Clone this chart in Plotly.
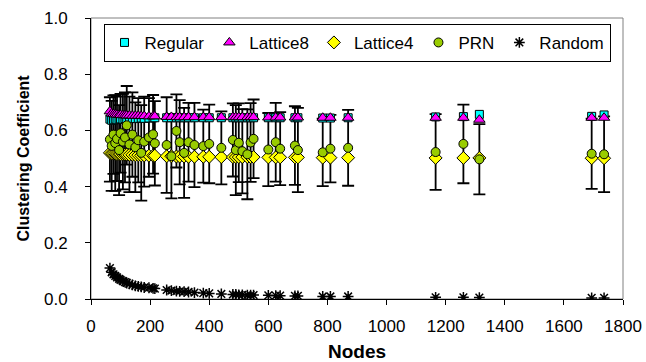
import plotly.graph_objects as go

nodes = [64, 70, 76, 82, 88, 95, 100, 108, 115, 121, 130, 140, 150, 160, 170, 180, 196, 210, 216,
         256, 272, 289, 300, 315, 330, 350, 380, 400, 441, 480, 490, 500, 512, 529, 540, 550,
         600, 625, 640, 690, 700, 784, 810, 870, 1166, 1260, 1314, 1694, 1736]

regular = [0.640, 0.636, 0.638, 0.640, 0.638, 0.640, 0.641, 0.640, 0.642, 0.640, 0.642, 0.643, 0.642,
           0.643, 0.644, 0.643, 0.644, 0.645, 0.645,
           0.645, 0.645, 0.645, 0.645, 0.645, 0.645, 0.645, 0.645, 0.645, 0.645, 0.645, 0.645, 0.645,
           0.645, 0.645, 0.645, 0.645, 0.645, 0.645, 0.645, 0.645, 0.645, 0.644, 0.644, 0.645,
           0.648, 0.649, 0.657, 0.650, 0.655]

lattice8 = [0.668, 0.660, 0.658, 0.657, 0.656, 0.655, 0.655, 0.654, 0.654, 0.653, 0.653, 0.652, 0.652,
            0.652, 0.651, 0.651, 0.650, 0.650, 0.650,
            0.648, 0.648, 0.647, 0.647, 0.647, 0.647, 0.647, 0.647, 0.647, 0.647, 0.647, 0.647, 0.647,
            0.647, 0.647, 0.647, 0.647, 0.646, 0.646, 0.646, 0.646, 0.646, 0.645, 0.645, 0.645,
            0.645, 0.645, 0.638, 0.645, 0.645]

lattice4 = [0.520, 0.518, 0.518, 0.517, 0.516, 0.516, 0.515, 0.515, 0.514, 0.514, 0.513, 0.513, 0.512,
            0.512, 0.511, 0.511, 0.510, 0.510, 0.510,
            0.508, 0.508, 0.507, 0.507, 0.507, 0.506, 0.506, 0.506, 0.506, 0.505, 0.505, 0.505, 0.505,
            0.505, 0.505, 0.505, 0.505, 0.504, 0.504, 0.504, 0.504, 0.504, 0.503, 0.503, 0.503,
            0.502, 0.502, 0.502, 0.501, 0.501]

prn = [0.568, 0.545, 0.585, 0.555, 0.570, 0.530, 0.590, 0.560, 0.575, 0.618, 0.550, 0.585, 0.540,
       0.565, 0.520, 0.560, 0.575, 0.586, 0.554,
       0.548, 0.508, 0.598, 0.558, 0.520, 0.558, 0.548, 0.544, 0.552, 0.538, 0.566, 0.530, 0.556,
       0.526, 0.515, 0.557, 0.570, 0.532, 0.558, 0.535, 0.546, 0.530, 0.522, 0.535, 0.538,
       0.523, 0.552, 0.497, 0.517, 0.515]

prn_err = [0.15, 0.16, 0.14, 0.17, 0.15, 0.16, 0.14, 0.17, 0.16, 0.14, 0.17, 0.15, 0.16,
           0.15, 0.17, 0.16, 0.14, 0.14, 0.15,
           0.17, 0.15, 0.13, 0.15, 0.16, 0.14, 0.15, 0.13, 0.14, 0.13, 0.13, 0.16, 0.14,
           0.15, 0.16, 0.14, 0.14, 0.13, 0.14, 0.13, 0.14, 0.15, 0.12, 0.12, 0.135,
           0.135, 0.14, 0.125, 0.125, 0.135]

random_ = [0.110, 0.095, 0.088, 0.082, 0.077, 0.072, 0.068, 0.064, 0.060, 0.057, 0.054, 0.050, 0.047,
           0.045, 0.043, 0.041, 0.040, 0.038, 0.037,
           0.032, 0.030, 0.028, 0.027, 0.026, 0.025, 0.023, 0.021, 0.020, 0.018, 0.016, 0.016, 0.015,
           0.015, 0.014, 0.014, 0.014, 0.013, 0.012, 0.012, 0.011, 0.011, 0.009, 0.009, 0.009,
           0.006, 0.006, 0.005, 0.004, 0.004]

FONT = "Liberation Sans, Arial, sans-serif"
outline = dict(color="black", width=1)

fig = go.Figure()

# PRN error bars (drawn first so markers sit on top)
fig.add_trace(go.Scatter(
    x=nodes, y=prn, mode="markers", showlegend=False, hoverinfo="skip",
    marker=dict(size=1, color="rgba(0,0,0,0)"),
    error_y=dict(type="data", array=prn_err, visible=True, color="black", thickness=1.8, width=6),
))

fig.add_trace(go.Scatter(x=nodes, y=regular, mode="markers", name="Regular",
                         marker=dict(symbol="square", size=8, color="#00FFFF", line=outline)))
fig.add_trace(go.Scatter(x=nodes, y=lattice8, mode="markers", name="Lattice8",
                         marker=dict(symbol="triangle-up", size=10, color="#FF00FF", line=outline)))
fig.add_trace(go.Scatter(x=nodes, y=lattice4, mode="markers", name="Lattice4",
                         marker=dict(symbol="diamond", size=10, color="#FFFF00", line=outline)))
fig.add_trace(go.Scatter(x=nodes, y=prn, mode="markers", name="PRN",
                         marker=dict(symbol="circle", size=9, color="#99CC00", line=outline)))
fig.add_trace(go.Scatter(x=nodes, y=random_, mode="markers", name="Random",
                         marker=dict(symbol="asterisk-open", size=9, color="black",
                                     line=dict(color="black", width=1.5))))

fig.update_layout(
    width=646, height=362,
    margin=dict(l=91, r=23, t=18, b=63),
    paper_bgcolor="white", plot_bgcolor="white",
    font=dict(family=FONT, color="black", size=17),
    showlegend=True,
    legend=dict(orientation="h", x=0.5, xanchor="center", y=0.979, yanchor="top",
                bgcolor="white", bordercolor="black", borderwidth=1,
                font=dict(family=FONT, size=17, color="black")),
    shapes=[dict(type="rect", xref="paper", yref="paper", x0=0, x1=1, y0=0, y1=1,
                 line=dict(color="#808080", width=1), layer="below")],
)

fig.update_xaxes(range=[0, 1800], tick0=0, dtick=200, showgrid=False, zeroline=False,
                 showline=True, linecolor="black", linewidth=1, automargin=False,
                 ticks="outside", ticklen=5, tickcolor="black", ticklabelstandoff=7,
                 tickfont=dict(family=FONT, size=17),
                 title=dict(text="Nodes", font=dict(family=FONT, size=19, weight="bold"), standoff=14))
fig.update_yaxes(range=[0, 1], tick0=0, dtick=0.2, tickformat=".1f", showgrid=False, zeroline=False,
                 showline=True, linecolor="black", linewidth=1, automargin=False,
                 ticks="outside", ticklen=5, tickcolor="black", ticklabelstandoff=14,
                 tickfont=dict(family=FONT, size=17),
                 title=dict(text="Clustering Coefficient", font=dict(family=FONT, size=16, weight="bold"),
                            standoff=10))

fig.write_html("out.html")
